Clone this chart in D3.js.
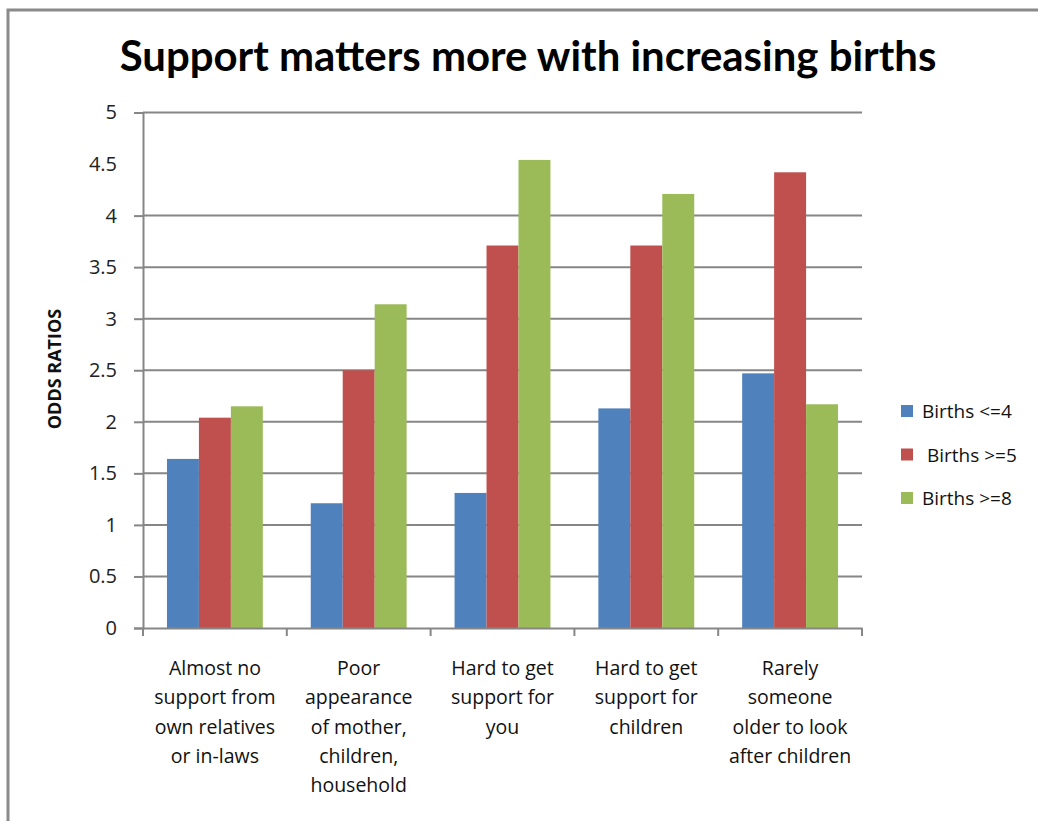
<!DOCTYPE html>
<html>
<head>
<meta charset="utf-8">
<script src="https://cdn.jsdelivr.net/npm/d3@7"></script>
<style>
  body { margin: 0; background: #fff; }
  svg { display: block; font-family: "Open Sans", sans-serif; }
</style>
</head>
<body>
<svg id="chart" width="1038" height="821"></svg>
<script>
const categories = [
  ["Almost no", "support from", "own relatives", "or in-laws"],
  ["Poor", "appearance", "of mother,", "children,", "household"],
  ["Hard to get", "support for", "you"],
  ["Hard to get", "support for", "children"],
  ["Rarely", "someone", "older to look", "after children"]
];
const seriesNames = ["Births <=4", " Births >=5", "Births >=8"];
const births4 = [1.64, 1.21, 1.31, 2.13, 2.47];
const births5 = [2.04, 2.50, 3.71, 3.71, 4.42];
const births8 = [2.15, 3.14, 4.54, 4.21, 2.17];
const yTicks = [0, 0.5, 1, 1.5, 2, 2.5, 3, 3.5, 4, 4.5, 5];
const gridTicks = [0.5, 1, 1.5, 2, 2.5, 3, 3.5, 4, 5];
const colors = ["#4f81bd", "#c0504d", "#9bbb59"];

const svg = d3.select("#chart");
const catKeys = categories.map((c, i) => i);
const values = [births4, births5, births8];

const plotLeft = 143, plotRight = 862, plotTop = 112.5, plotBottom = 628;

// outer frame
svg.append("rect").attr("x", 8).attr("y", 10).attr("width", 1040).attr("height", 830)
  .attr("fill", "none").attr("stroke", "#8a8a8a").attr("stroke-width", 3);

const x = d3.scaleBand().domain(catKeys).range([plotLeft, plotRight]);
const xSub = d3.scaleBand().domain(d3.range(3)).range([0, x.bandwidth()]).paddingOuter(0.75);
const y = d3.scaleLinear().domain([0, 5]).range([plotBottom, plotTop]);

// gridlines
svg.append("g").selectAll("line").data(gridTicks).join("line")
  .attr("x1", plotLeft).attr("x2", plotRight)
  .attr("y1", d => y(d)).attr("y2", d => y(d))
  .attr("stroke", "#868686").attr("stroke-width", 2);

// bars
const groups = svg.append("g").selectAll("g").data(catKeys).join("g")
  .attr("transform", i => `translate(${x(i)},0)`);
groups.selectAll("rect").data(i => values.map((s, k) => ({ k, v: s[i] }))).join("rect")
  .attr("x", d => xSub(d.k))
  .attr("width", xSub.bandwidth())
  .attr("y", d => y(d.v))
  .attr("height", d => y(0) - y(d.v))
  .attr("fill", d => colors[d.k]);

// y axis
const yAxis = svg.append("g").attr("transform", `translate(${plotLeft},0)`)
  .call(d3.axisLeft(y).tickValues(yTicks).tickSize(9).tickPadding(17).tickFormat(d3.format("~g")));
yAxis.select(".domain").attr("stroke", "#868686").attr("stroke-width", 2);
yAxis.selectAll(".tick line").attr("stroke", "#868686").attr("stroke-width", 2)
  .attr("opacity", d => d === 4.5 ? 0 : 1);
yAxis.selectAll(".tick text").attr("font-size", 20).attr("fill", "#222")
  .attr("font-family", "'Open Sans', sans-serif");

// x axis
const xAxis = svg.append("g").attr("transform", `translate(0,${plotBottom})`)
  .call(d3.axisBottom(x).tickSize(0).tickFormat(""));
xAxis.select(".domain").attr("stroke", "#868686").attr("stroke-width", 2);
const bounds = catKeys.map(i => x(i)).concat([plotRight]);
xAxis.selectAll(".bound").data(bounds).join("line").attr("class", "bound")
  .attr("x1", d => d).attr("x2", d => d).attr("y1", 0).attr("y2", 8)
  .attr("stroke", "#868686").attr("stroke-width", 2);

const labels = svg.append("g").selectAll("text").data(catKeys).join("text")
  .attr("text-anchor", "middle").attr("font-size", 19.5).attr("fill", "#111")
  .attr("x", i => x(i) + x.bandwidth() / 2).attr("y", 675);
labels.selectAll("tspan").data(i => categories[i]).join("tspan")
  .attr("x", function() { return d3.select(this.parentNode).attr("x"); })
  .attr("dy", (d, j) => j === 0 ? 0 : 29.3)
  .text(d => d);

// y axis title
svg.append("text").attr("transform", "translate(61,369) rotate(-90)")
  .attr("text-anchor", "middle").attr("font-size", 18).attr("font-weight", "bold")
  .attr("fill", "#111").text("ODDS RATIOS");

// title
const title = svg.append("text").attr("x", 528).attr("y", 71)
  .attr("text-anchor", "middle").attr("font-size", 36).attr("font-weight", "bold")
  .attr("font-family", "Lato, 'Open Sans', sans-serif")
  .attr("fill", "#000").text("Support matters more with increasing births");
const tw = title.node().getComputedTextLength();
title.attr("font-size", 36 * 817 / tw);

// legend
const legend = svg.append("g").selectAll("g").data(seriesNames).join("g")
  .attr("transform", (d, i) => `translate(901,${411 + i * 43.5})`);
legend.append("rect").attr("x", 0).attr("y", -6).attr("width", 12).attr("height", 12)
  .attr("fill", (d, i) => colors[i]);
legend.append("text").attr("x", 21).attr("y", 7).attr("font-size", 19).attr("fill", "#111")
  .attr("xml:space", "preserve").style("white-space", "pre").text(d => d);
</script>
</body>
</html>
